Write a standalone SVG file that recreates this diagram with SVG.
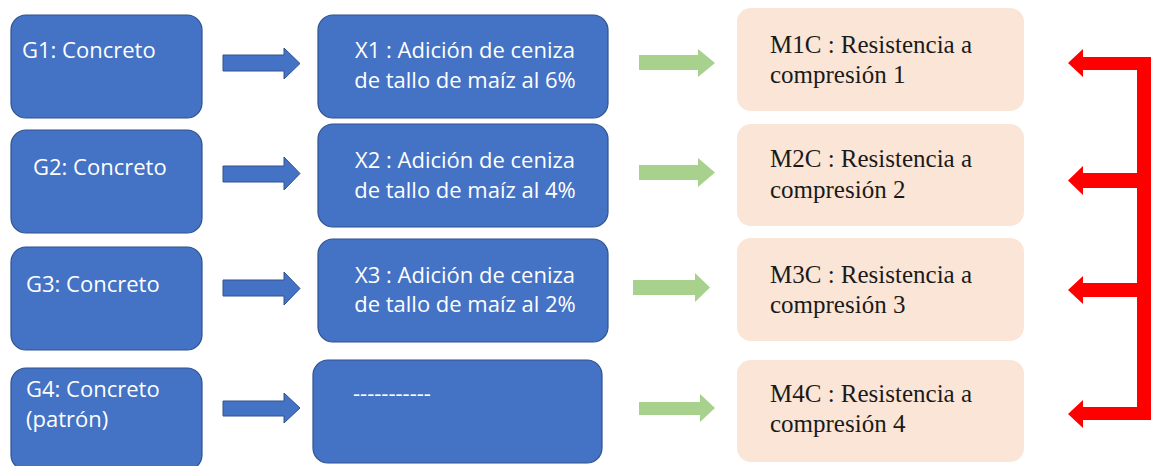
<svg xmlns="http://www.w3.org/2000/svg" width="1152" height="466" viewBox="0 0 1152 466">
<style>
.blue{fill:#4472C4;stroke:#2F528F;stroke-width:1.2}
.peach{fill:#FBE5D6}
.w{font-family:"Open Sans","Liberation Sans",sans-serif;font-size:22px;fill:#FFFFFF}
.s{font-family:"Liberation Serif","Times New Roman",serif;font-size:25px;fill:#1a1a1a}
.ba{fill:#4472C4;stroke:#2F528F;stroke-width:1}
.ga{fill:#A9D18E}
.ra{fill:#FF0000}
</style>
<rect width="1152" height="466" fill="#FFFFFF"/>
<g id="G1"><rect class="blue" x="11" y="15" width="191" height="103" rx="15"/><text class="w" x="22" y="58">G1: Concreto</text></g>
<g id="G2"><rect class="blue" x="11" y="130" width="191" height="103" rx="15"/><text class="w" x="33" y="175">G2: Concreto</text></g>
<g id="G3"><rect class="blue" x="11" y="247" width="191" height="103" rx="15"/><text class="w" x="26" y="292">G3: Concreto</text></g>
<g id="G4"><rect class="blue" x="11" y="368" width="191" height="102" rx="15"/><text class="w" x="26" y="397">G4: Concreto</text><text class="w" x="26" y="427">(patrón)</text></g>
<g id="X1"><rect class="blue" x="318" y="15" width="290" height="103" rx="15"/><text class="w" x="465" y="58" text-anchor="middle">X1 : Adición de ceniza</text><text class="w" x="465" y="88" text-anchor="middle">de tallo de maíz al 6%</text></g>
<g id="X2"><rect class="blue" x="318" y="124" width="290" height="103" rx="15"/><text class="w" x="465" y="168" text-anchor="middle">X2 : Adición de ceniza</text><text class="w" x="465" y="198" text-anchor="middle">de tallo de maíz al 4%</text></g>
<g id="X3"><rect class="blue" x="318" y="239" width="290" height="103" rx="15"/><text class="w" x="465" y="283" text-anchor="middle">X3 : Adición de ceniza</text><text class="w" x="465" y="312" text-anchor="middle">de tallo de maíz al 2%</text></g>
<g id="X4"><rect class="blue" x="313" y="360" width="289" height="103" rx="15"/><text class="w" x="353" y="401">-----------</text></g>
<g id="M1C"><rect class="peach" x="737" y="8" width="287" height="103" rx="14"/><text class="s" x="770" y="53">M1C : Resistencia a</text><text class="s" x="770" y="83">compresión 1</text></g>
<g id="M2C"><rect class="peach" x="737" y="124" width="287" height="102" rx="14"/><text class="s" x="770" y="167">M2C : Resistencia a</text><text class="s" x="770" y="198">compresión 2</text></g>
<g id="M3C"><rect class="peach" x="737" y="238" width="287" height="103" rx="14"/><text class="s" x="770" y="283">M3C : Resistencia a</text><text class="s" x="770" y="313">compresión 3</text></g>
<g id="M4C"><rect class="peach" x="737" y="360" width="287" height="102" rx="14"/><text class="s" x="770" y="402">M4C : Resistencia a</text><text class="s" x="770" y="432">compresión 4</text></g>
<g id="connectors">
<path class="ba" d="M223 55H284V48L300 63.5L284 79V71H223Z"/>
<path class="ba" d="M223 166H284V157L300 173.5L284 190V182H223Z"/>
<path class="ba" d="M223 280H284V272L300 288.5L284 305V296H223Z"/>
<path class="ba" d="M223 401H284V393L300 408L284 423V416H223Z"/>
<path class="ga" d="M639 55H698V49L715 63L698 77V70H639Z"/>
<path class="ga" d="M639 165H698V158L715 172.5L698 187V180H639Z"/>
<path class="ga" d="M633 280H695V273L710 287.5L695 302V295H633Z"/>
<path class="ga" d="M639 402H700V394L715 408L700 422V415H639Z"/>
<path class="ra" d="M1137 58H1151V420H1137Z"/>
<path class="ra" d="M1151 57H1083V49L1068 63L1083 77V70H1151Z"/>
<path class="ra" d="M1151 173H1083V166L1068 180.5L1083 195V188H1151Z"/>
<path class="ra" d="M1151 283H1083V276L1068 290L1083 304V297H1151Z"/>
<path class="ra" d="M1151 407H1083V400L1068 414L1083 428V420H1151Z"/>
</g>
</svg>
